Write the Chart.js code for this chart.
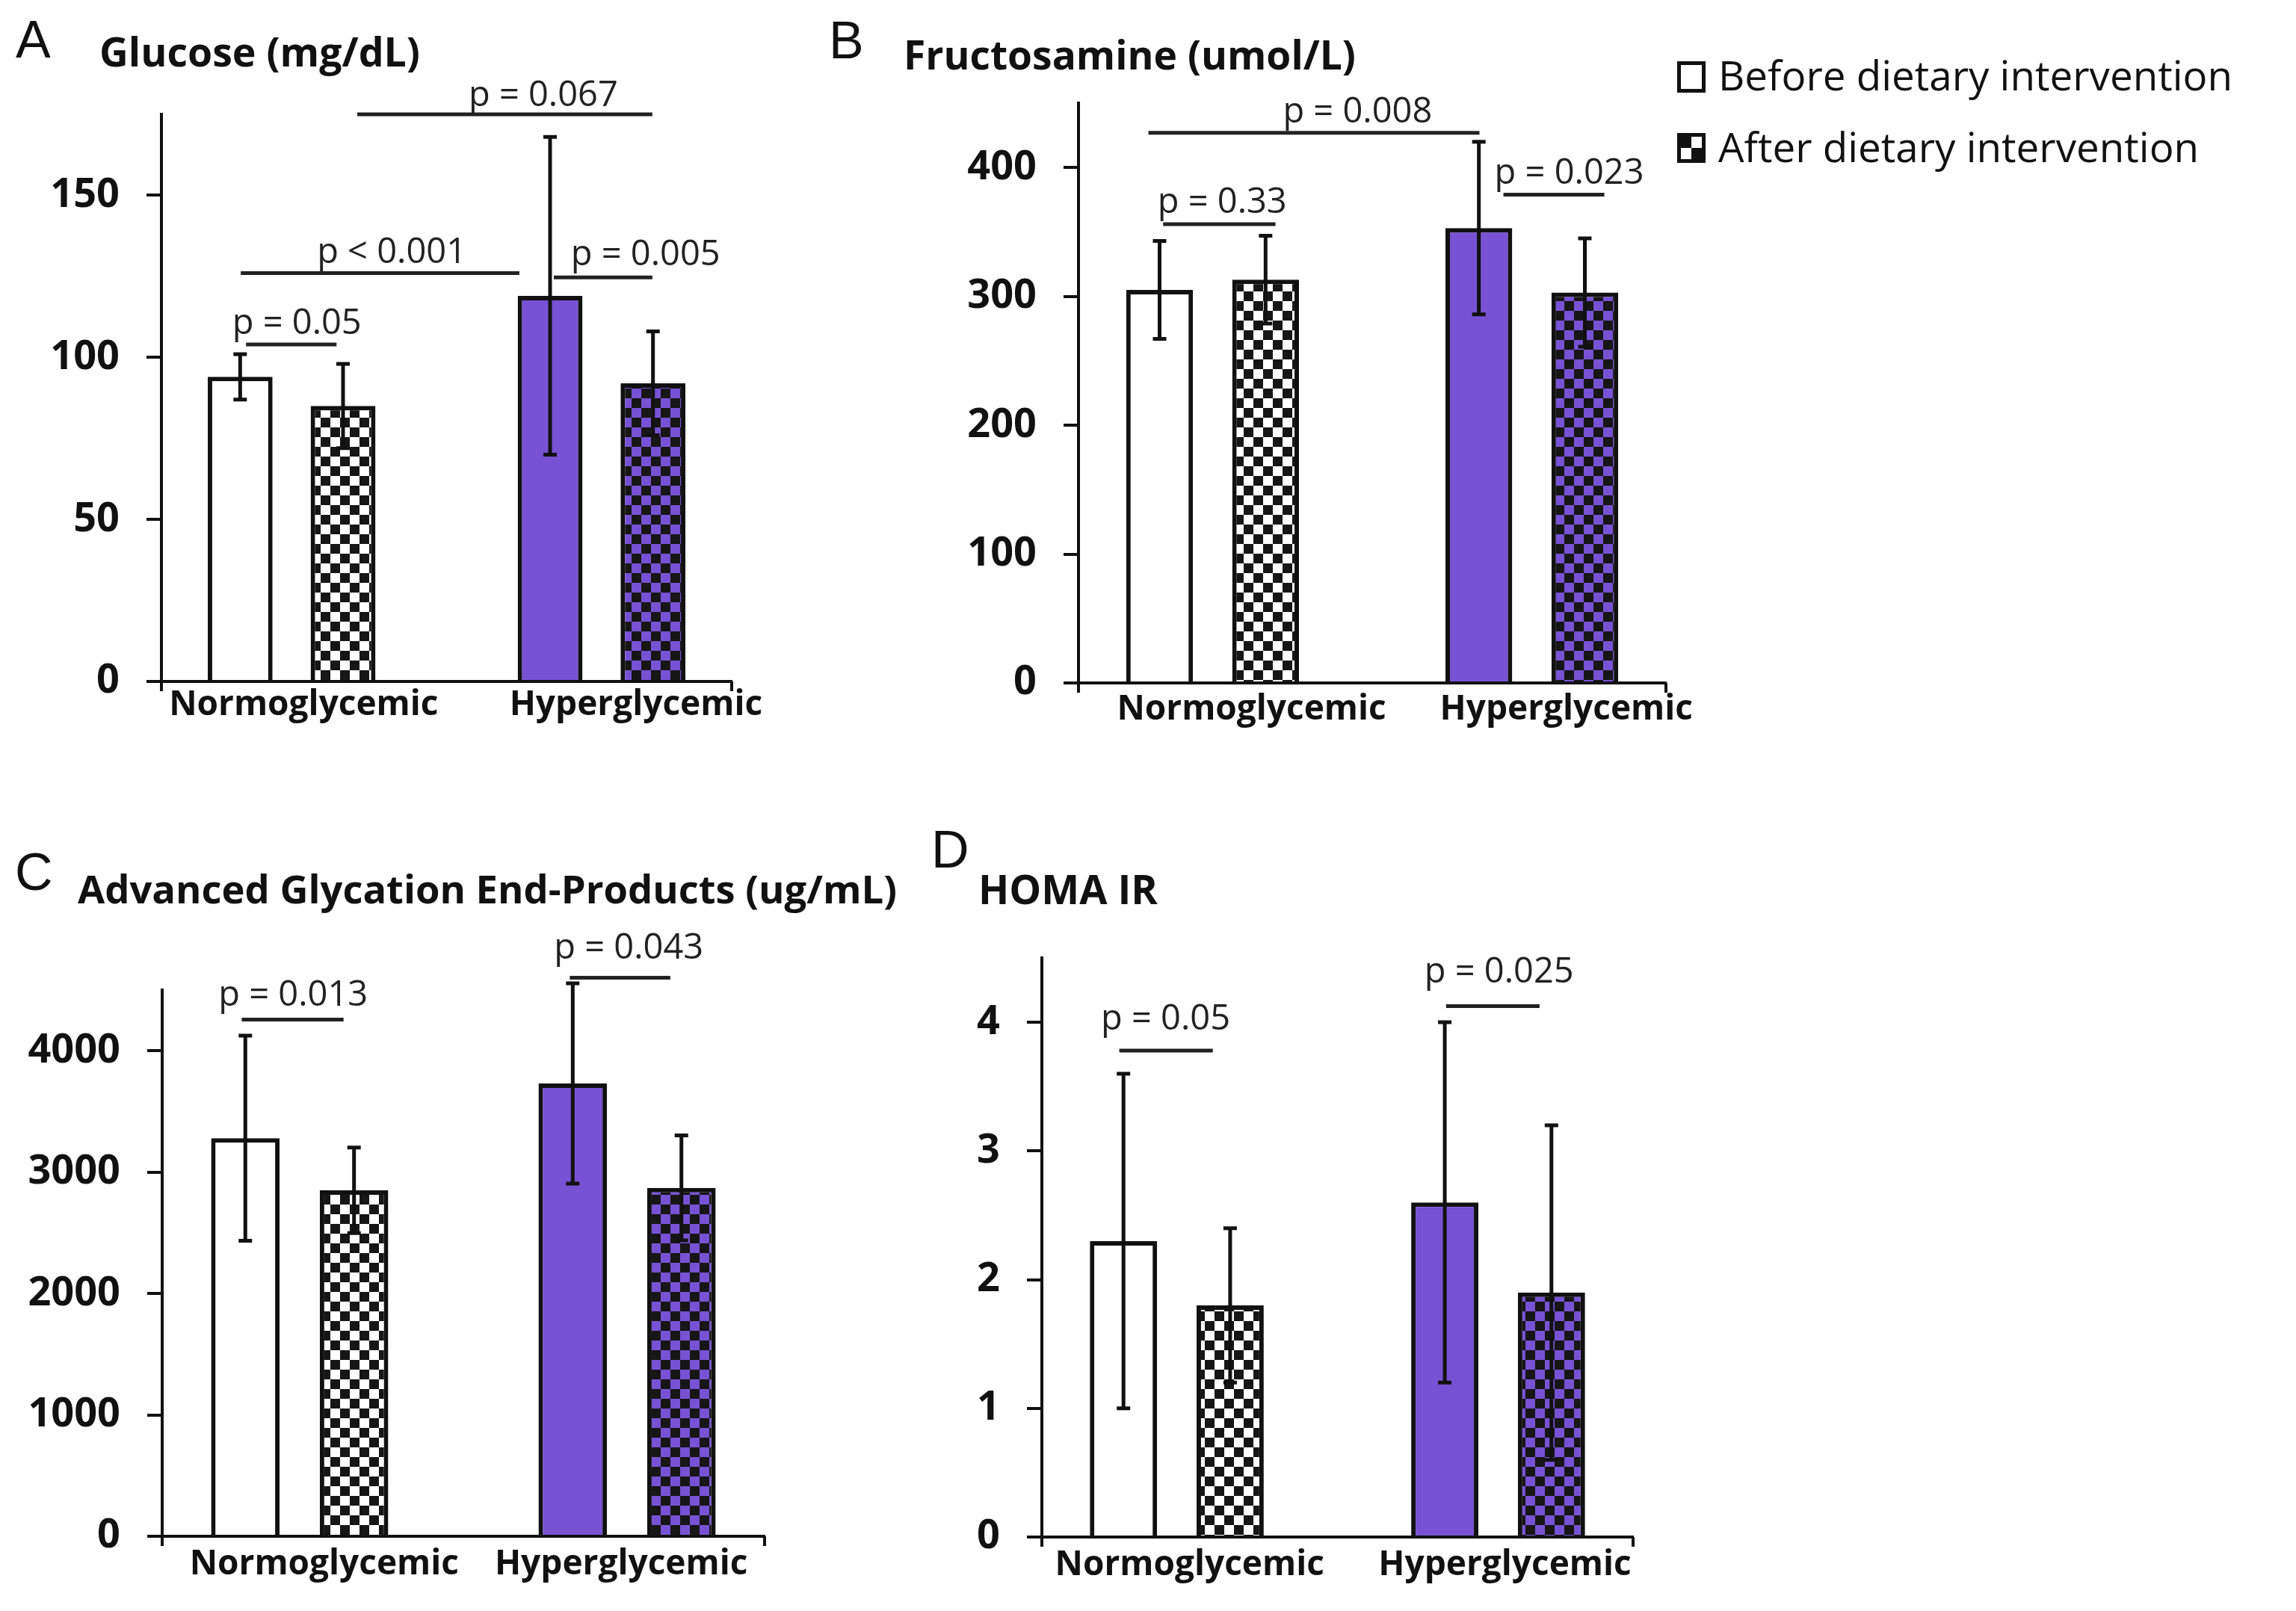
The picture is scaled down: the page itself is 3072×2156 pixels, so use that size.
<!DOCTYPE html>
<html>
<head>
<meta charset="utf-8">
<title>Dietary intervention – glycemic markers</title>
<script src="https://cdn.jsdelivr.net/npm/chart.js@4.4.1/dist/chart.umd.min.js"></script>
<style>
html,body{margin:0;padding:0;background:#fff;}
#wrap{position:relative;width:3072px;height:2156px;overflow:hidden;background:#fff;}
#wrap canvas{position:absolute;left:0;top:0;}
</style>
</head>
<body>
<div id="wrap">
<canvas id="cA" width="3072" height="2156" style="width:3072px;height:2156px"></canvas>
<canvas id="cB" width="3072" height="2156" style="width:3072px;height:2156px"></canvas>
<canvas id="cC" width="3072" height="2156" style="width:3072px;height:2156px"></canvas>
<canvas id="cD" width="3072" height="2156" style="width:3072px;height:2156px"></canvas>
</div>
<script>
// ---------------- DATA ----------------
const categories = ['Normoglycemic', 'Hyperglycemic'];
const seriesNames = ['Before dietary intervention', 'After dietary intervention'];

const glucoseBefore   = [94, 119];
const glucoseBeforeSD = [7, 49];
const glucoseAfter    = [85, 92];
const glucoseAfterSD  = [13, 16];
const glucoseTicks    = [0, 50, 100, 150];
const glucosePText    = ['p = 0.05', 'p < 0.001', 'p = 0.005', 'p = 0.067'];
const glucosePLevel   = [104, 126, 124.7, 175];

const fructBefore   = [305, 353];
const fructBeforeSD = [38, 67];
const fructAfter    = [313, 303];
const fructAfterSD  = [34, 42];
const fructTicks    = [0, 100, 200, 300, 400];
const fructPText    = ['p = 0.33', 'p = 0.008', 'p = 0.023'];
const fructPLevel   = [356, 427, 379];

const agesBefore   = [3280, 3730];
const agesBeforeSD = [845, 825];
const agesAfter    = [2850, 2870];
const agesAfterSD  = [352, 433];
const agesTicks    = [0, 1000, 2000, 3000, 4000];
const agesPText    = ['p = 0.013', 'p = 0.043'];
const agesPLevel   = [4257, 4601];

const homaBefore   = [2.3, 2.6];
const homaBeforeSD = [1.3, 1.4];
const homaAfter    = [1.8, 1.9];
const homaAfterSD  = [0.6, 1.3];
const homaTicks    = [0, 1, 2, 3, 4];
const homaPText    = ['p = 0.05', 'p = 0.025'];
const homaPLevel   = [3.78, 4.125];

// ---------------- STYLE / LAYOUT ----------------
const W = 3072, H = 2156, YW = 216;
const PURPLE = '#7752D4', INK = '#111111', CHECK_DARK = '#161616';
const SANS = '"Open Sans", "Liberation Sans", sans-serif';
const LETTER_FONT = '"Liberation Sans", Arial, sans-serif';

function checker(light, dark, s) {
  const c = document.createElement('canvas');
  c.width = c.height = 2 * s;
  const g = c.getContext('2d');
  g.fillStyle = light; g.fillRect(0, 0, 2 * s, 2 * s);
  g.fillStyle = dark; g.fillRect(0, 0, s, s); g.fillRect(s, s, s, s);
  return g.createPattern(c, 'repeat');
}

const panels = [
  { id: 'cA', letter: 'A', title: 'Glucose (mg/dL)',
    before: glucoseBefore, beforeSD: glucoseBeforeSD, after: glucoseAfter, afterSD: glucoseAfterSD,
    max: 175, ticks: glucoseTicks, pText: glucosePText, pLevel: glucosePLevel,
    area: [216, 153, 979, 912], letterPos: [21, 77], titlePos: [133, 89, 429],
    labelPos: [0.039, 1.111], labelPad: -4,
    bx: [[-0.147, 0.145, 0.017], [-0.164, 0.735, 0.323], [0.846, 1.164, 1.142], [0.212, 1.164, 0.812]],
    gap: [14, 14, 16, 11] },
  { id: 'cB', letter: 'B', title: 'Fructosamine (umol/L)',
    before: fructBefore, beforeSD: fructBeforeSD, after: fructAfter, afterSD: fructAfterSD,
    max: 450, ticks: fructTicks, pText: fructPText, pLevel: fructPLevel,
    area: [1443, 138, 2229, 914], letterPos: [1109, 78], titlePos: [1209, 93, 605],
    labelPos: [0.122, 1.108], labelPad: 0,
    bx: [[-0.155, 0.197, 0.030], [-0.201, 0.836, 0.454], [0.911, 1.227, 1.117]],
    gap: [15, 14, 14], legend: true },
  { id: 'cC', letter: 'C', title: 'Advanced Glycation End-Products (ug/mL)',
    before: agesBefore, beforeSD: agesBeforeSD, after: agesAfter, afterSD: agesAfterSD,
    max: 4500, ticks: agesTicks, pText: agesPText, pLevel: agesPLevel,
    area: [217, 1325, 1023, 2056], letterPos: [20, 1191], titlePos: [104, 1209, 1096],
    labelPos: [0.075, 0.982], labelPad: 2,
    bx: [[-0.177, 0.134, -0.020], [0.825, 1.132, 1.005]],
    gap: [18, 26] },
  { id: 'cD', letter: 'D', title: 'HOMA IR',
    before: homaBefore, beforeSD: homaBeforeSD, after: homaAfter, afterSD: homaAfterSD,
    max: 4.5, ticks: homaTicks, pText: homaPText, pLevel: homaPLevel,
    area: [1394, 1282, 2185, 2057], letterPos: [1246, 1161], titlePos: [1309, 1210, 240],
    labelPos: [0.040, 1.021], labelPad: 2,
    bx: [[-0.179, 0.112, -0.035], [0.838, 1.129, 1.003]],
    gap: [28, 32] }
];

function fittedFont(ctx, text, weight, family, width) {
  ctx.font = weight + ' 100px ' + family;
  const w = ctx.measureText(text).width;
  return weight + ' ' + (100 * width / w).toFixed(2) + 'px ' + family;
}

function makeDecor(p) {
  return {
    id: 'decor',
    afterDatasetsDraw(chart) {
      const ctx = chart.ctx, ys = chart.scales.y;
      const sds = [p.beforeSD, p.afterSD];
      ctx.save();
      ctx.strokeStyle = INK; ctx.lineWidth = 5; ctx.lineCap = 'butt';
      chart.data.datasets.forEach((ds, di) => {
        const meta = chart.getDatasetMeta(di);
        meta.data.forEach((bar, j) => {
          const v = ds.data[j].y, e = sds[di][j];
          const yt = ys.getPixelForValue(v + e), yb = ys.getPixelForValue(v - e);
          const cap = 9;
          ctx.beginPath();
          ctx.moveTo(bar.x, yt); ctx.lineTo(bar.x, yb);
          ctx.moveTo(bar.x - cap, yt); ctx.lineTo(bar.x + cap, yt);
          ctx.moveTo(bar.x - cap, yb); ctx.lineTo(bar.x + cap, yb);
          ctx.stroke();
        });
      });
      ctx.restore();
    },
    afterDraw(chart) {
      const ctx = chart.ctx, xs = chart.scales.x, ys = chart.scales.y, a = chart.chartArea;
      ctx.save();
      // end tick marks of the category axis
      ctx.strokeStyle = INK; ctx.lineWidth = 4;
      ctx.beginPath();
      ctx.moveTo(a.left, a.bottom); ctx.lineTo(a.left, a.bottom + 13);
      ctx.moveTo(a.right, a.bottom); ctx.lineTo(a.right, a.bottom + 13);
      ctx.stroke();
      // significance brackets
      p.pText.forEach((t, i) => {
        const [x1, x2, tx] = p.bx[i];
        const y = ys.getPixelForValue(p.pLevel[i]);
        ctx.strokeStyle = '#222222'; ctx.lineWidth = 5;
        ctx.beginPath();
        ctx.moveTo(xs.getPixelForValue(x1), y); ctx.lineTo(xs.getPixelForValue(x2), y);
        ctx.stroke();
        ctx.font = '400 47px ' + SANS; ctx.fillStyle = '#222222';
        ctx.textAlign = 'center'; ctx.textBaseline = 'alphabetic';
        ctx.fillText(t, xs.getPixelForValue(tx), y - p.gap[i]);
      });
      // panel letter and title
      ctx.textAlign = 'left'; ctx.textBaseline = 'alphabetic'; ctx.fillStyle = INK;
      ctx.font = '400 70px ' + LETTER_FONT;
      ctx.fillText(p.letter, p.letterPos[0], p.letterPos[1]);
      ctx.font = fittedFont(ctx, p.title, '700', SANS, p.titlePos[2]);
      ctx.fillText(p.title, p.titlePos[0], p.titlePos[1]);
      // legend
      if (p.legend) {
        const bx = 2244, bw = 38;
        ctx.lineWidth = 5; ctx.strokeStyle = INK;
        ctx.strokeRect(bx + 2.5, 84.5, bw - 5, 37);
        ctx.fillStyle = INK; ctx.fillRect(bx, 178, bw, 40);
        ctx.fillStyle = '#fff';
        ctx.fillRect(bx + 19, 183, 14, 15);
        ctx.fillRect(bx + 5, 198, 14, 15);
        ctx.fillStyle = INK;
        ctx.font = fittedFont(ctx, seriesNames[0], '400', SANS, 688);
        ctx.fillText(seriesNames[0], 2299, 121);
        ctx.fillText(seriesNames[1], 2299, 217);
      }
      ctx.restore();
    }
  };
}

function build() {
  if (window.__built) return; window.__built = true;
  const whiteCheck = checker('#ffffff', CHECK_DARK, 13);
  const purpleCheck = checker(PURPLE, CHECK_DARK, 13);
  panels.forEach(p => {
    const [L, T, R, B] = p.area;
    const XH = Math.min(100, H - B);
    const toPts = arr => arr.map((v, i) => ({ x: i, y: v }));
    new Chart(document.getElementById(p.id), {
      type: 'bar',
      data: {
        datasets: [
          { label: seriesNames[0], data: toPts(p.before), backgroundColor: ['#ffffff', PURPLE] },
          { label: seriesNames[1], data: toPts(p.after), backgroundColor: [whiteCheck, purpleCheck] }
        ]
      },
      options: {
        responsive: false, animation: false,
        layout: { padding: { left: L - YW, top: T, right: W - R, bottom: H - B - XH } },
        plugins: { legend: { display: false }, tooltip: { enabled: false }, title: { display: false } },
        datasets: { bar: { categoryPercentage: 0.664, barPercentage: 0.63, borderWidth: 6, borderColor: INK } },
        scales: {
          // index axis carrying the bars (one unit per group)
          x: {
            type: 'linear', position: 'bottom', weight: 0, min: -0.42, max: 1.42, offset: false,
            afterBuildTicks: s => { s.ticks = categories.map((c, i) => ({ value: i })); },
            afterFit: s => { s.height = 0; },
            grid: { display: false, offset: false },
            border: { display: true, color: INK, width: 4 },
            ticks: { display: false }
          },
          // label axis for the category names
          xl: {
            type: 'linear', axis: 'x', position: 'bottom', weight: 1, min: -0.42, max: 1.42, offset: false,
            afterBuildTicks: s => { s.ticks = p.labelPos.map(v => ({ value: v })); },
            afterFit: s => { s.height = XH; },
            grid: { display: false, offset: false },
            border: { display: false },
            ticks: { callback: (v, i) => categories[i], autoSkip: false, maxRotation: 0,
                     font: { family: SANS, weight: 'bold', size: 46 }, color: INK, padding: p.labelPad }
          },
          y: {
            min: 0, max: p.max,
            afterBuildTicks: s => { s.ticks = p.ticks.map(v => ({ value: v })); },
            afterFit: s => { s.width = YW; },
            grid: { display: true, drawOnChartArea: false, drawTicks: true, tickLength: 20,
                    tickWidth: 4, tickColor: INK, color: INK, lineWidth: 4 },
            border: { display: true, color: INK, width: 4 },
            ticks: { callback: v => String(v), font: { family: SANS, weight: 'bold', size: 54 },
                     color: INK, padding: 36 }
          }
        }
      },
      plugins: [makeDecor(p)]
    });
  });
}

const loads = ['700 52px "Open Sans"', '400 46px "Open Sans"', '400 70px "Liberation Sans"']
  .map(f => document.fonts.load(f));
Promise.all(loads).then(build, build);
setTimeout(build, 1500);
</script>
</body>
</html>
